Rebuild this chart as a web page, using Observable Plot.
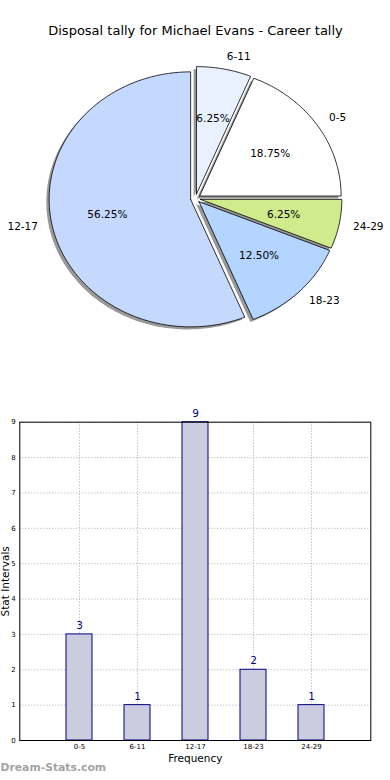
<!DOCTYPE html>
<html>
<head>
<meta charset="utf-8">
<script src="https://cdn.jsdelivr.net/npm/d3@7"></script>
<script src="https://cdn.jsdelivr.net/npm/@observablehq/plot@0.6"></script>
<style>
  html, body { margin: 0; padding: 0; background: #fff; }
  body { width: 390px; height: 780px; overflow: hidden; font-family: "DejaVu Sans", sans-serif; }
  svg { display: block; }
</style>
</head>
<body>
<div id="pie"></div>
<div id="bar"></div>
<script>
// ---- data ----
const titleText = "Disposal tally for Michael Evans - Career tally";
const categories = ["0-5", "6-11", "12-17", "18-23", "24-29"];
const counts = [3, 1, 9, 2, 1];
const sliceColors = ["#ffffff", "#e9f1ff", "#c5d9ff", "#b3d5ff", "#cfeb8c"];
const yTicks = [0, 1, 2, 3, 4, 5, 6, 7, 8, 9];
const xLabel = "Frequency";
const yLabel = "Stat Intervals";
const watermark = "Dream-Stats.com";

// ---- pie geometry (derived from values) ----
const total = d3.sum(counts);
const explode = 0.035;
const shadowOff = -0.02;
let acc = 0;
const slices = categories.map((c, i) => {
  const a0 = acc / total * 2 * Math.PI;
  acc += counts[i];
  const a1 = acc / total * 2 * Math.PI;
  const mid = (a0 + a1) / 2;
  return {label: c, value: counts[i], color: sliceColors[i], a0, a1, mid,
          ox: explode * Math.cos(mid), oy: explode * Math.sin(mid),
          pct: (counts[i] / total * 100).toFixed(2) + "%"};
});
function polygon(s, dx, dy, key) {
  const pts = [{x: s.ox + dx, y: s.oy + dy, k: key, color: s.color}];
  const n = Math.max(2, Math.ceil((s.a1 - s.a0) / (Math.PI / 180)));
  for (let j = 0; j <= n; j++) {
    const a = s.a0 + (s.a1 - s.a0) * j / n;
    pts.push({x: s.ox + dx + Math.cos(a), y: s.oy + dy + Math.sin(a), k: key, color: s.color});
  }
  pts.push({x: s.ox + dx, y: s.oy + dy, k: key, color: s.color});
  return pts;
}
const wedgePts = slices.flatMap(s => polygon(s, 0, 0, s.label));
const shadowPts = slices.flatMap(s => polygon(s, shadowOff, shadowOff, "sh" + s.label));
const outerLabels = slices.map(s => ({
  x: s.ox + 1.1 * Math.cos(s.mid), y: s.oy + 1.1 * Math.sin(s.mid),
  text: s.label, right: Math.cos(s.mid) >= 0
}));
const pctLabels = slices.map(s => ({
  x: s.ox + 0.6 * Math.cos(s.mid), y: s.oy + 0.6 * Math.sin(s.mid), text: s.pct
}));

const pie = Plot.plot({
  width: 390, height: 380,
  marginTop: 0, marginBottom: 0, marginLeft: 0, marginRight: 0,
  style: {fontFamily: "DejaVu Sans", background: "#fff"},
  x: {domain: [-1, 1], range: [53.5, 336.5], axis: null},
  y: {domain: [-1, 1], range: [325.5, 70.5], axis: null},
  color: {type: "identity"},
  marks: [
    Plot.line(shadowPts, {x: "x", y: "y", z: "k", fill: "#333", fillOpacity: 0.5, stroke: "none"}),
    Plot.line(wedgePts, {x: "x", y: "y", z: "k", fill: "color", stroke: "#000", strokeWidth: 0.8}),
    Plot.text(outerLabels.filter(d => d.right), {x: "x", y: "y", text: "text", textAnchor: "start", fontSize: 10.5, fill: "#000"}),
    Plot.text(outerLabels.filter(d => !d.right), {x: "x", y: "y", text: "text", textAnchor: "end", fontSize: 10.5, fill: "#000"}),
    Plot.text(pctLabels, {x: "x", y: "y", text: "text", fontSize: 10.5, fill: "#000"}),
    Plot.text([titleText], {frameAnchor: "top", dy: 30, text: d => d, fontSize: 13, fill: "#000", lineAnchor: "middle"})
  ]
});
document.getElementById("pie").appendChild(pie);

// ---- bar chart ----
const barData = categories.map((c, i) => ({cat: c, count: counts[i]}));
const bar = Plot.plot({
  width: 390, height: 400,
  marginTop: 41.7, marginBottom: 40, marginLeft: 19.3, marginRight: 19.7,
  style: {fontFamily: "DejaVu Sans", background: "#fff", overflow: "visible"},
  x: {type: "band", domain: categories, paddingInner: 0.555, paddingOuter: 0.7775},
  y: {domain: [0, 9]},
  marks: [
    Plot.gridY(yTicks, {stroke: "#aaa", strokeOpacity: 1, strokeDasharray: "1,2", strokeWidth: 1}),
    Plot.gridX(categories, {stroke: "#aaa", strokeOpacity: 1, strokeDasharray: "1,2", strokeWidth: 1}),
    Plot.barY(barData, {x: "cat", y: "count", fill: "#ccccdf", stroke: "#000080", strokeWidth: 1}),
    Plot.text(barData, {x: "cat", y: "count", text: d => String(d.count), dy: -9, fontSize: 10.5, fill: "#00008b"}),
    Plot.frame({stroke: "#000", strokeWidth: 1}),
    Plot.axisY(yTicks, {tickSize: 0, tickPadding: 4, fontSize: 7, label: null, tickFormat: d => String(d)}),
    Plot.axisX(categories, {tickSize: 0, tickPadding: 3.5, fontSize: 7, label: null}),
    Plot.text([xLabel], {frameAnchor: "bottom", dy: 21, text: d => d, fontSize: 10.5, fill: "#000"}),
    Plot.text([yLabel], {frameAnchor: "left", dx: -14.5, rotate: -90, textAnchor: "middle", text: d => d, fontSize: 10.5, fill: "#000"}),
    Plot.text([watermark], {frameAnchor: "bottom-left", dx: -19.3, dy: 30, textAnchor: "start", text: d => d, fontSize: 10.8, fontWeight: "bold", fill: "#a3a3a3"})
  ]
});
document.getElementById("bar").appendChild(bar);
</script>
</body>
</html>
